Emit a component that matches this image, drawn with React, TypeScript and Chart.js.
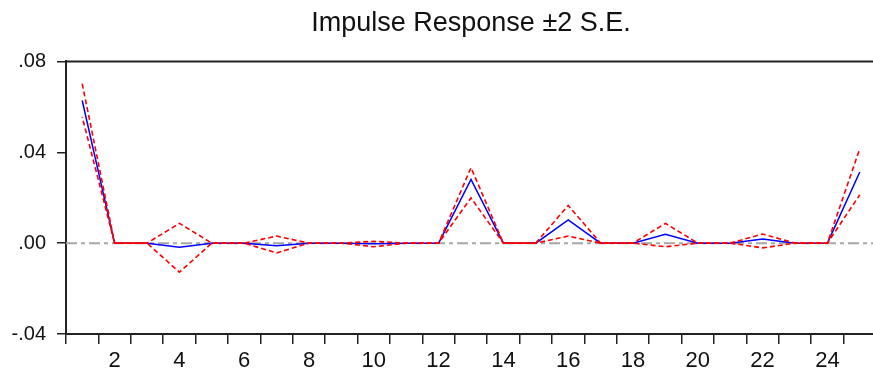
import React, { useEffect, useRef } from "react";
import { Chart, registerables } from "chart.js";

Chart.register(...registerables);

// Forecast horizon (periods after the shock)
const periods = [
  "1", "2", "3", "4", "5", "6", "7", "8", "9", "10", "11", "12", "13",
  "14", "15", "16", "17", "18", "19", "20", "21", "22", "23", "24", "25",
];

// Point estimate of the impulse response
const response = [
  0.0628, 0, 0, -0.0018, 0, 0, -0.0012, 0, 0, -0.0003, 0, 0, 0.028,
  0, 0, 0.0102, 0, 0, 0.0039, 0, 0, 0.0018, 0, 0, 0.0313,
];

// Upper band: response + 2 standard errors
const upperBand = [
  0.0702, 0, 0, 0.0087, 0, 0, 0.0031, 0, 0, 0.0008, 0, 0, 0.0332,
  0, 0, 0.0166, 0, 0, 0.0087, 0, 0, 0.004, 0, 0, 0.0416,
];

// Lower band: response - 2 standard errors
const lowerBand = [
  0.0556, 0, 0, -0.0128, 0, 0, -0.0043, 0, 0, -0.0016, 0, 0, 0.0199,
  0, 0, 0.0031, 0, 0, -0.0016, 0, 0, -0.0021, 0, 0, 0.0213,
];

const yTickLabels: Record<string, string> = {
  "0.08": ".08",
  "0.04": ".04",
  "0": ".00",
  "-0.04": "-.04",
};

const FONT = "'Liberation Sans', Arial, sans-serif";
const AXIS_COLOR = "#222";

// Dashed grey reference line at zero, plus the top frame edge
const framePlugin = {
  id: "frame",
  beforeDatasetsDraw(chart: any) {
    const { ctx, chartArea, scales } = chart;
    const y0 = scales.y.getPixelForValue(0);
    ctx.save();
    ctx.strokeStyle = "#a6a6a6";
    ctx.lineWidth = 2;
    ctx.setLineDash([11, 4, 4, 4]);
    ctx.beginPath();
    ctx.moveTo(chartArea.left, y0);
    ctx.lineTo(chartArea.right, y0);
    ctx.stroke();
    ctx.restore();
  },
  afterDraw(chart: any) {
    const { ctx, chartArea } = chart;
    ctx.save();
    ctx.strokeStyle = AXIS_COLOR;
    ctx.lineWidth = 2;
    ctx.beginPath();
    ctx.moveTo(chartArea.left, chartArea.top);
    ctx.lineTo(chartArea.right, chartArea.top);
    ctx.lineTo(chartArea.right, chartArea.bottom);
    ctx.stroke();
    ctx.restore();
  },
};

export default function App() {
  const canvasRef = useRef<HTMLCanvasElement | null>(null);

  useEffect(() => {
    if (!canvasRef.current) return;
    const chart = new Chart(canvasRef.current, {
      type: "line",
      data: {
        labels: periods,
        datasets: [
          {
            label: "+2 S.E.",
            data: upperBand,
            borderColor: "#ff0000",
            borderWidth: 1.6,
            borderDash: [5, 3],
            pointRadius: 0,
            tension: 0,
          },
          {
            label: "-2 S.E.",
            data: lowerBand,
            borderColor: "#ff0000",
            borderWidth: 1.6,
            borderDash: [5, 3],
            borderDashOffset: 4,
            pointRadius: 0,
            tension: 0,
          },
          {
            label: "Response",
            data: response,
            borderColor: "#0000ff",
            borderWidth: 1.5,
            pointRadius: 0,
            tension: 0,
          },
        ],
      },
      options: {
        animation: false,
        responsive: true,
        maintainAspectRatio: false,
        layout: { padding: { left: 0, right: 4, top: 0, bottom: 0 } },
        plugins: {
          legend: { display: false },
          tooltip: { enabled: false },
          title: {
            display: true,
            text: "Impulse Response ±2 S.E.",
            color: "#111",
            fullSize: false,
            font: { family: FONT, size: 27, weight: "normal" },
            padding: { top: 7, bottom: 22 },
          },
        },
        scales: {
          x: {
            type: "category",
            offset: true,
            grid: {
              display: true,
              offset: true,
              drawOnChartArea: false,
              tickLength: 10,
              color: AXIS_COLOR,
              lineWidth: 1.5,
            },
            border: { display: true, color: AXIS_COLOR, width: 2 },
            ticks: {
              autoSkip: false,
              maxRotation: 0,
              color: "#111",
              padding: 4,
              font: { family: FONT, size: 22 },
              callback: (_v: any, i: number) =>
                (i + 1) % 2 === 0 ? periods[i] : "",
            },
            afterFit: (scale: any) => {
              scale.height = 42;
            },
          },
          y: {
            min: -0.04,
            max: 0.08,
            grid: {
              display: true,
              drawOnChartArea: false,
              tickLength: 9,
              color: AXIS_COLOR,
              lineWidth: 1.5,
            },
            border: { display: true, color: AXIS_COLOR, width: 2 },
            ticks: {
              stepSize: 0.04,
              color: "#111",
              padding: 11,
              font: { family: FONT, size: 20 },
              callback: (v: any) => {
                const key = String(Math.round(Number(v) * 100) / 100);
                return yTickLabels[key] ?? "";
              },
            },
            afterFit: (scale: any) => {
              scale.width = 66;
            },
          },
        },
      },
      plugins: [framePlugin],
    });
    return () => chart.destroy();
  }, []);

  return (
    <div
      style={{
        position: "fixed",
        left: 0,
        top: 0,
        width: 873,
        height: 376,
        overflow: "hidden",
        background: "#fff",
      }}
    >
      <div style={{ position: "relative", width: 880, height: 376 }}>
        <canvas ref={canvasRef} />
      </div>
    </div>
  );
}
